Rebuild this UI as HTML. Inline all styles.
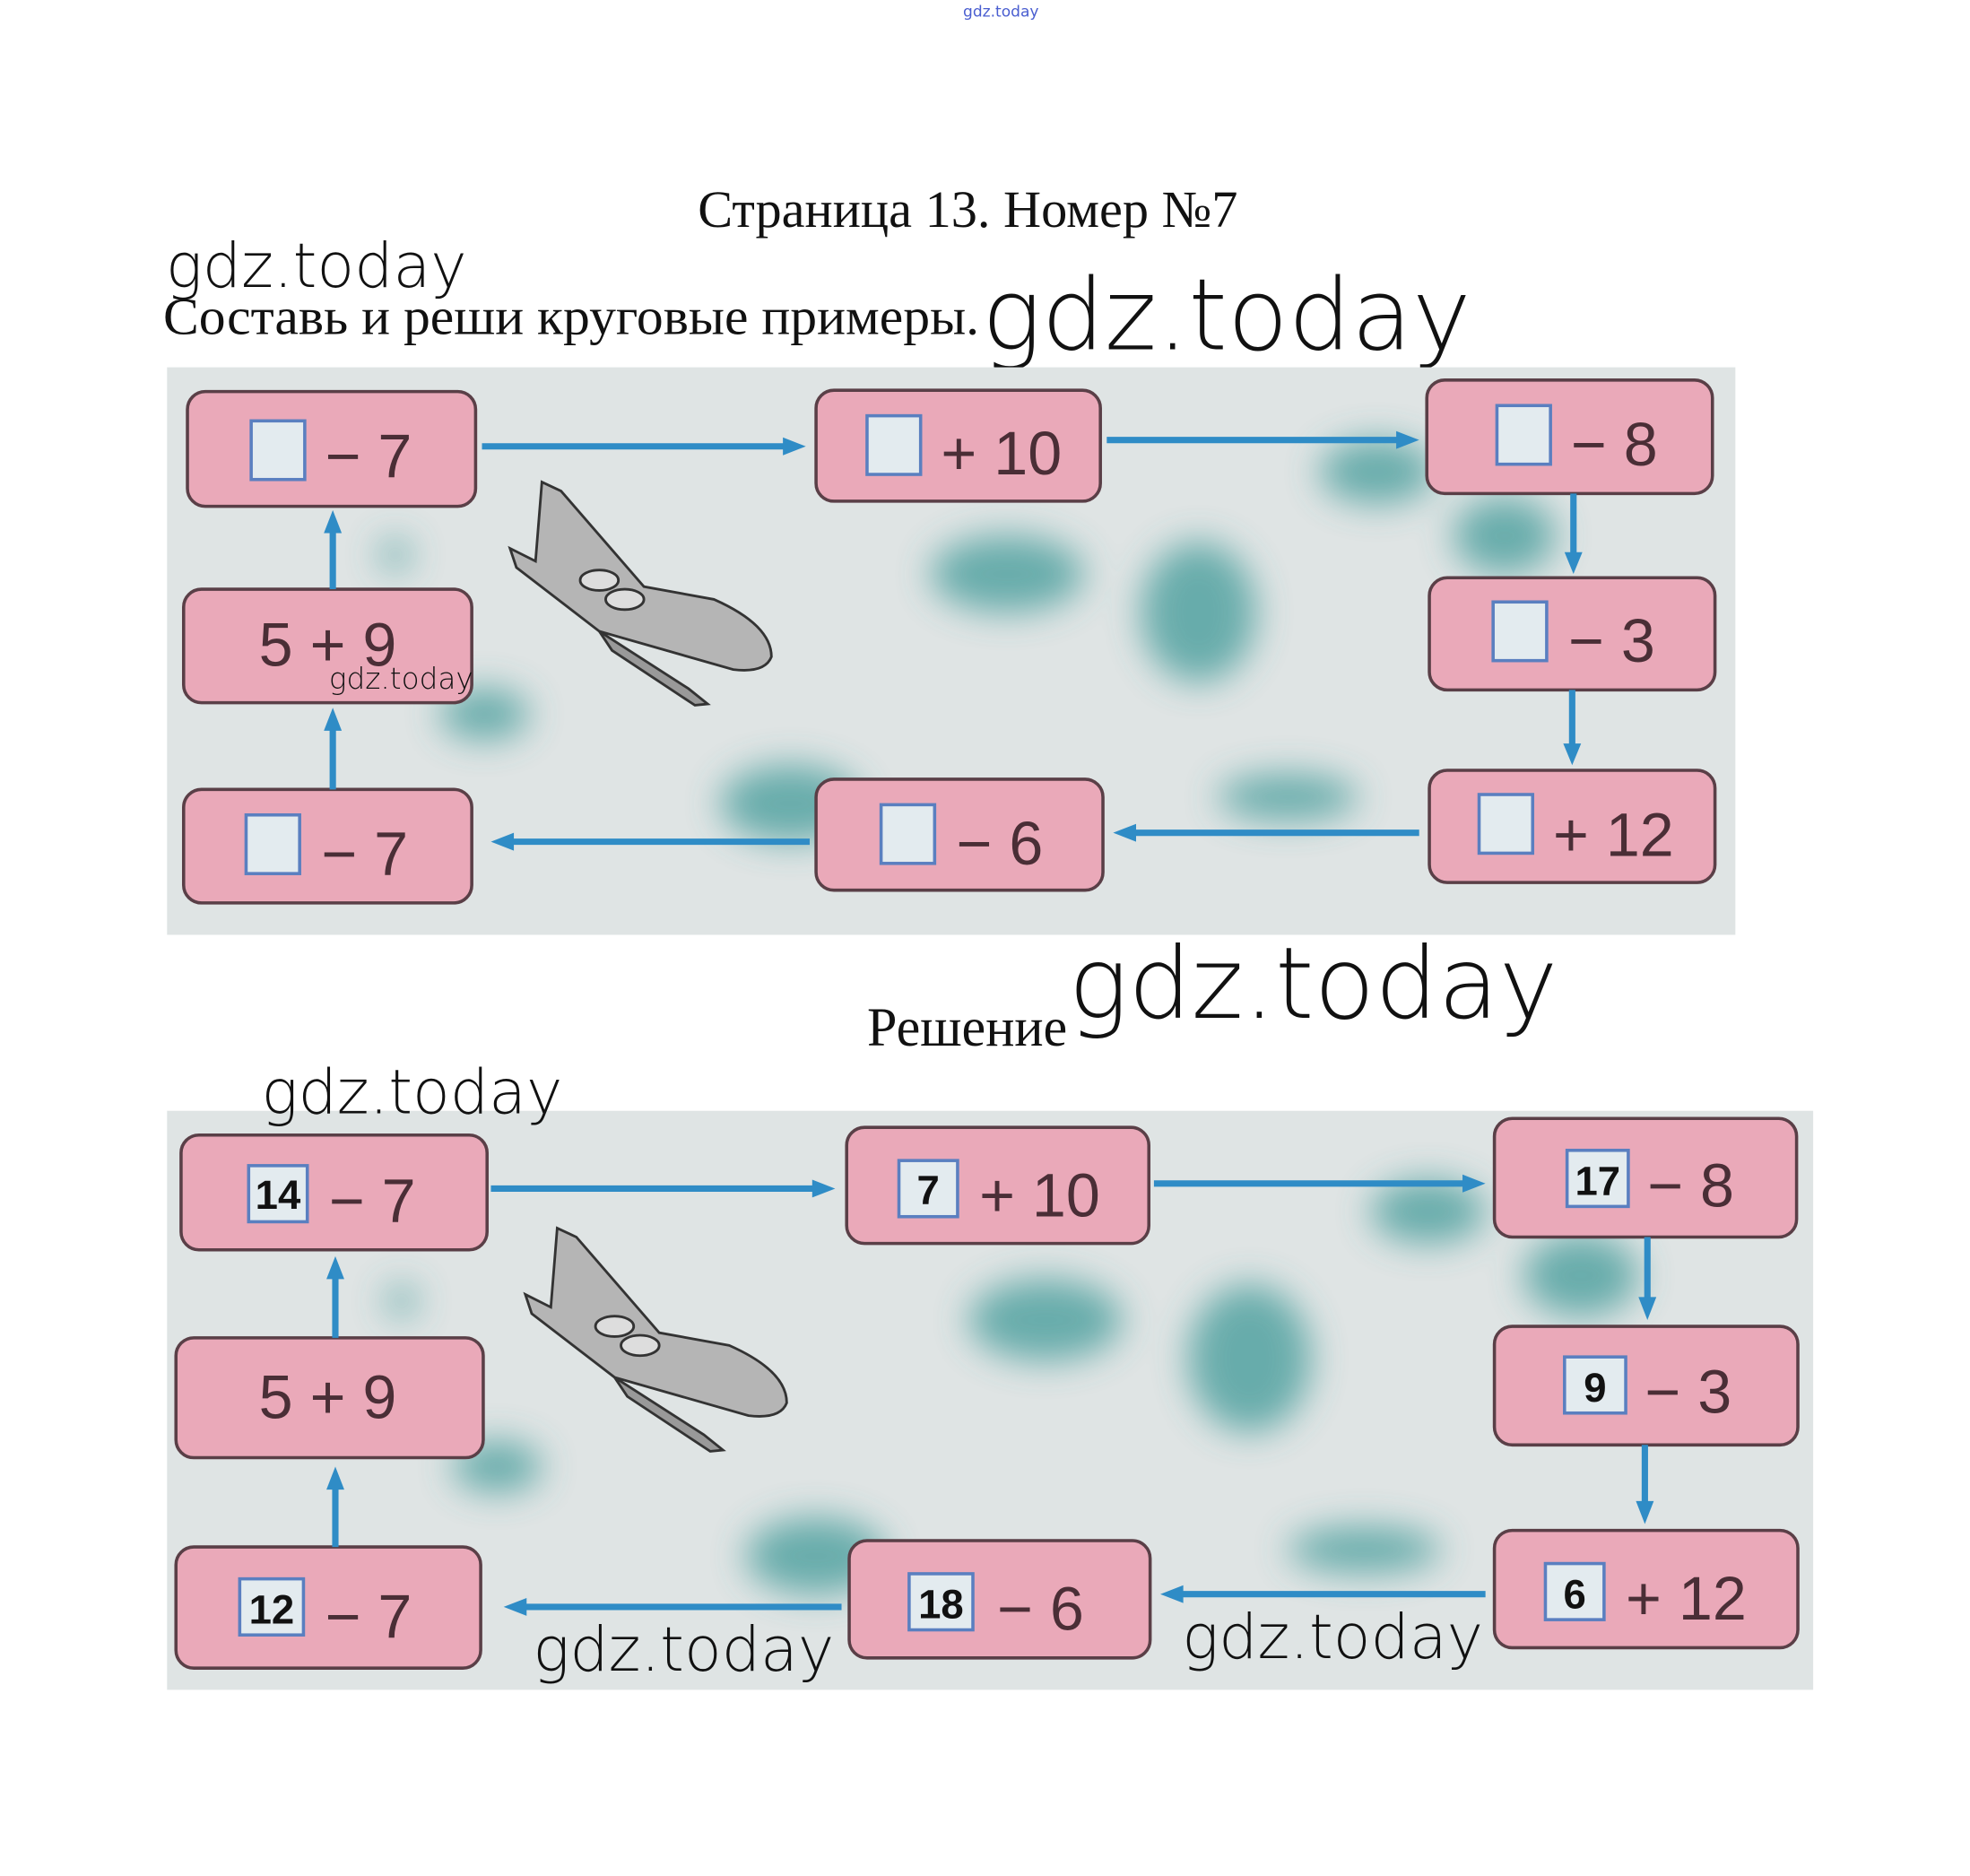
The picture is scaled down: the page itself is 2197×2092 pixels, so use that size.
<!DOCTYPE html>
<html><head><meta charset="utf-8"><style>
html,body{margin:0;padding:0;background:#fff;}
svg{display:block;}
.serif{font-family:"Liberation Serif",serif;fill:#111;}
.wm{font-family:"DejaVu Sans","Liberation Sans",sans-serif;font-weight:200;fill:#111;}
.bx{fill:#eaa9b9;stroke:#5a3f47;stroke-width:2.5;}
.t{font-family:"Liberation Sans Narrow","Liberation Sans",sans-serif;fill:#4a2e36;font-size:48px;}
.sq{fill:#e3ebef;stroke:#5a7fc0;stroke-width:2.5;}
.n{font-family:"Liberation Sans",sans-serif;font-weight:bold;fill:#111;font-size:32px;}
.ar{stroke:#2f8cc6;stroke-width:5;fill:none;}
.ah{fill:#2f8cc6;}
</style></head><body>
<svg width="2197" height="2092" viewBox="0 0 1545 1471" preserveAspectRatio="none" xmlns="http://www.w3.org/2000/svg">
<defs>
<filter id="bl" x="-50%" y="-50%" width="200%" height="200%"><feGaussianBlur stdDeviation="14"/></filter>
<g id="plane">
<path d="M425,378 L440,385 L505,460 L560,470 Q605,490 605,515 Q600,528 575,525 L470,495 L405,445 L400,430 L420,440 Z" fill="#b5b5b5" stroke="#333" stroke-width="2"/>
<path d="M470,495 L540,540 L555,552 L545,553 L480,510 Z" fill="#999" stroke="#333" stroke-width="2"/>
<ellipse cx="470" cy="455" rx="15" ry="8" fill="#ddd" stroke="#333" stroke-width="2"/>
<ellipse cx="490" cy="470" rx="15" ry="8" fill="#ddd" stroke="#333" stroke-width="2"/>
</g>
</defs>

<text x="785" y="13" font-size="12" text-anchor="middle" style="font-family:'DejaVu Sans',sans-serif;fill:#4a5ed0">gdz.today</text>
<text x="759" y="178" font-size="41" text-anchor="middle" class="serif">Страница 13. Номер №7</text>
<text x="130" y="225" font-size="48" class="wm">gdz.today</text>
<text x="128" y="262" font-size="41" class="serif" textLength="640" lengthAdjust="spacingAndGlyphs">Составь и реши круговые примеры.</text>
<text x="770" y="274" font-size="78" class="wm">gdz.today</text>

<!-- panel 1 -->
<rect x="131" y="288" width="1230" height="445" fill="#dfe4e4"/>
<g filter="url(#bl)" fill="#3f9a98" opacity="0.75">
<ellipse cx="790" cy="450" rx="60" ry="30"/><ellipse cx="940" cy="480" rx="45" ry="55"/>
<ellipse cx="1080" cy="370" rx="45" ry="25"/><ellipse cx="1180" cy="420" rx="40" ry="30"/>
<ellipse cx="620" cy="630" rx="55" ry="30"/><ellipse cx="1010" cy="625" rx="55" ry="18"/>
<ellipse cx="380" cy="560" rx="35" ry="20"/><ellipse cx="310" cy="435" rx="12" ry="12"/>
</g>
<use href="#plane"/>
<g>
<rect class="bx" x="147" y="307" width="226" height="90" rx="14"/><rect class="sq" x="197" y="330" width="42" height="46"/><text class="t" x="255" y="374">− 7</text>
<rect class="bx" x="640" y="306" width="223" height="87" rx="14"/><rect class="sq" x="680" y="326" width="42" height="46"/><text class="t" x="738" y="372">+ 10</text>
<rect class="bx" x="1119" y="298" width="224" height="89" rx="14"/><rect class="sq" x="1174" y="318" width="42" height="46"/><text class="t" x="1232" y="365">− 8</text>
<rect class="bx" x="1121" y="453" width="224" height="88" rx="14"/><rect class="sq" x="1171" y="472" width="42" height="46"/><text class="t" x="1230" y="519">− 3</text>
<rect class="bx" x="1121" y="604" width="224" height="88" rx="14"/><rect class="sq" x="1160" y="623" width="42" height="46"/><text class="t" x="1218" y="671">+ 12</text>
<rect class="bx" x="640" y="611" width="225" height="87" rx="14"/><rect class="sq" x="691" y="631" width="42" height="46"/><text class="t" x="750" y="678">− 6</text>
<rect class="bx" x="144" y="619" width="226" height="89" rx="14"/><rect class="sq" x="193" y="639" width="42" height="46"/><text class="t" x="252" y="686">− 7</text>
<rect class="bx" x="144" y="462" width="226" height="89" rx="14"/><text class="t" x="203" y="522">5 + 9</text>
</g>
<text x="258" y="540" font-size="23" class="wm">gdz.today</text>
<g>
<line class="ar" x1="378" y1="350" x2="620" y2="350"/><path class="ah" d="M632,350 L614,343 L614,357Z"/>
<line class="ar" x1="868" y1="345" x2="1100" y2="345"/><path class="ah" d="M1113,345 L1095,338 L1095,352Z"/>
<line class="ar" x1="1234" y1="387" x2="1234" y2="438"/><path class="ah" d="M1234,450 L1227,433 L1241,433Z"/>
<line class="ar" x1="1233" y1="541" x2="1233" y2="588"/><path class="ah" d="M1233,600 L1226,583 L1240,583Z"/>
<line class="ar" x1="1113" y1="653" x2="885" y2="653"/><path class="ah" d="M873,653 L891,646 L891,660Z"/>
<line class="ar" x1="635" y1="660" x2="397" y2="660"/><path class="ah" d="M385,660 L403,653 L403,667Z"/>
<line class="ar" x1="261" y1="619" x2="261" y2="568"/><path class="ah" d="M261,555 L254,573 L268,573Z"/>
<line class="ar" x1="261" y1="462" x2="261" y2="413"/><path class="ah" d="M261,400 L254,418 L268,418Z"/>
</g>

<text x="680" y="820" font-size="43" class="serif" textLength="157" lengthAdjust="spacingAndGlyphs">Решение</text>
<text x="838" y="798" font-size="78" class="wm">gdz.today</text>

<!-- panel 2 -->
<rect x="131" y="871" width="1291" height="454" fill="#dfe4e4"/>
<g filter="url(#bl)" fill="#3f9a98" opacity="0.75">
<ellipse cx="820" cy="1035" rx="60" ry="32"/><ellipse cx="980" cy="1065" rx="48" ry="58"/>
<ellipse cx="1120" cy="950" rx="45" ry="25"/><ellipse cx="1240" cy="1000" rx="45" ry="32"/>
<ellipse cx="640" cy="1220" rx="55" ry="30"/><ellipse cx="1070" cy="1215" rx="60" ry="18"/>
<ellipse cx="390" cy="1150" rx="35" ry="20"/><ellipse cx="315" cy="1020" rx="12" ry="12"/>
</g>
<text x="205" y="873" font-size="48" class="wm">gdz.today</text>
<use href="#plane" transform="translate(12,585)"/>
<g>
<rect class="bx" x="142" y="890" width="240" height="90" rx="14"/><rect class="sq" x="195" y="914" width="46" height="44"/><text class="n" x="218" y="948" text-anchor="middle">14</text><text class="t" x="258" y="958">− 7</text>
<rect class="bx" x="664" y="884" width="237" height="91" rx="14"/><rect class="sq" x="705" y="910" width="46" height="44"/><text class="n" x="728" y="944" text-anchor="middle">7</text><text class="t" x="768" y="954">+ 10</text>
<rect class="bx" x="1172" y="877" width="237" height="93" rx="14"/><rect class="sq" x="1229" y="902" width="48" height="44"/><text class="n" x="1253" y="937" text-anchor="middle">17</text><text class="t" x="1292" y="946">− 8</text>
<rect class="bx" x="1172" y="1040" width="238" height="93" rx="14"/><rect class="sq" x="1227" y="1064" width="48" height="44"/><text class="n" x="1251" y="1099" text-anchor="middle">9</text><text class="t" x="1290" y="1108">− 3</text>
<rect class="bx" x="1172" y="1200" width="238" height="92" rx="14"/><rect class="sq" x="1212" y="1226" width="46" height="44"/><text class="n" x="1235" y="1261" text-anchor="middle">6</text><text class="t" x="1275" y="1270">+ 12</text>
<rect class="bx" x="666" y="1208" width="236" height="92" rx="14"/><rect class="sq" x="713" y="1234" width="50" height="44"/><text class="n" x="738" y="1269" text-anchor="middle">18</text><text class="t" x="782" y="1278">− 6</text>
<rect class="bx" x="138" y="1213" width="239" height="95" rx="14"/><rect class="sq" x="188" y="1238" width="50" height="44"/><text class="n" x="213" y="1273" text-anchor="middle">12</text><text class="t" x="255" y="1284">− 7</text>
<rect class="bx" x="138" y="1049" width="241" height="94" rx="14"/><text class="t" x="203" y="1112">5 + 9</text>
</g>
<g>
<line class="ar" x1="385" y1="932" x2="643" y2="932"/><path class="ah" d="M655,932 L637,925 L637,939Z"/>
<line class="ar" x1="905" y1="928" x2="1152" y2="928"/><path class="ah" d="M1165,928 L1147,921 L1147,935Z"/>
<line class="ar" x1="1292" y1="970" x2="1292" y2="1022"/><path class="ah" d="M1292,1035 L1285,1017 L1299,1017Z"/>
<line class="ar" x1="1290" y1="1133" x2="1290" y2="1182"/><path class="ah" d="M1290,1195 L1283,1177 L1297,1177Z"/>
<line class="ar" x1="1165" y1="1250" x2="922" y2="1250"/><path class="ah" d="M910,1250 L928,1243 L928,1257Z"/>
<line class="ar" x1="660" y1="1260" x2="407" y2="1260"/><path class="ah" d="M395,1260 L413,1253 L413,1267Z"/>
<line class="ar" x1="263" y1="1213" x2="263" y2="1163"/><path class="ah" d="M263,1150 L256,1168 L270,1168Z"/>
<line class="ar" x1="263" y1="1049" x2="263" y2="998"/><path class="ah" d="M263,985 L256,1003 L270,1003Z"/>
</g>
<text x="418" y="1310" font-size="48" class="wm">gdz.today</text>
<text x="927" y="1300" font-size="48" class="wm">gdz.today</text>
</svg>
</body></html>
